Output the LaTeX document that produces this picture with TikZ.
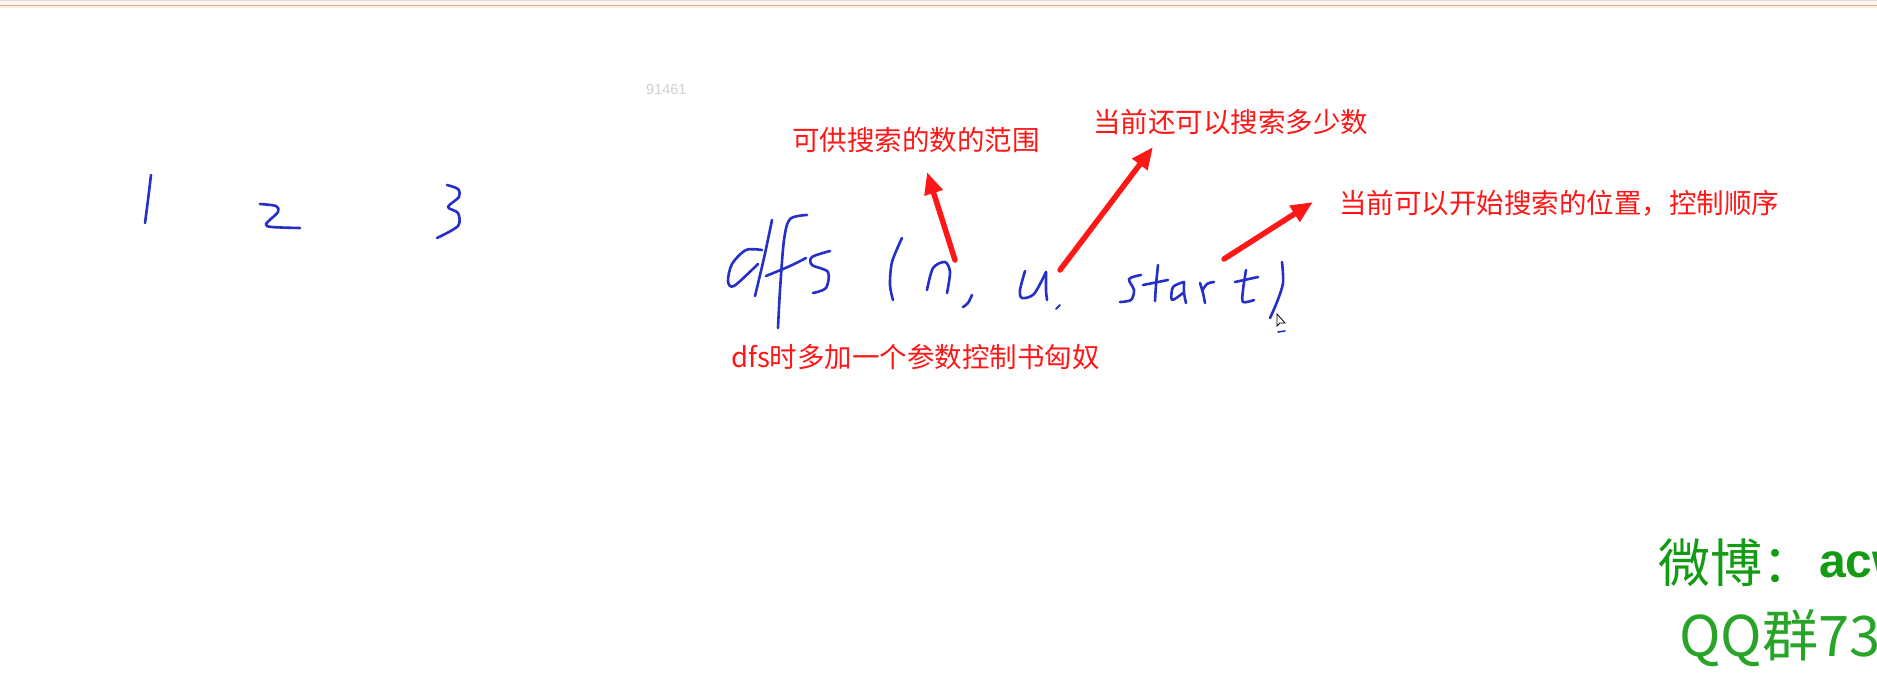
\documentclass[tikz,border=0pt]{standalone}
\usepackage{fontspec}
\newfontfamily\cjk{Noto Sans CJK SC}
\newfontfamily\latinsans{Liberation Sans}
\usetikzlibrary{arrows.meta}
\definecolor{penred}{RGB}{255,22,22}
\definecolor{ink}{RGB}{38,48,198}
\definecolor{wmgreen}{RGB}{20,155,20}
\definecolor{qqgreen}{RGB}{40,165,40}
\definecolor{wmgray}{RGB}{208,208,208}
\begin{document}
\begin{tikzpicture}[x=1pt,y=-1pt,
  hand/.style={ink, line width=2.6pt, line cap=round, line join=round},
  note/.style={penred, font=\cjk\fontsize{27.5}{30}\selectfont, inner sep=0pt, anchor=west},
  redarrow/.style={penred, line width=5.5pt, -{Triangle[length=22pt,width=18pt]}}]
\useasboundingbox (0,0) rectangle (1877,675);
\clip (0,0) rectangle (1877,675);
\fill[white] (0,0) rectangle (1877,675);
% top window edge
\fill[black!15] (0,0) rectangle (1877,1);
\fill[orange!6] (0,1) rectangle (1877,5);
\fill[brown!60] (0,5) rectangle (1877,6.3);
\fill[orange!12] (0,6.3) rectangle (1877,7.5);

% watermark
\node[wmgray, font=\latinsans\fontsize{14.5}{16}\selectfont, inner sep=0pt, anchor=west] (wm) at (646,90) {91461};

% handwritten 1 2 3
\draw[hand] plot[smooth] coordinates {(151,175) (148,200) (145,223)};
\draw[hand] plot[smooth] coordinates {(260,204) (276,206) (278,212) (266,224) (272,227) (300,228)};
\draw[hand] plot[smooth] coordinates {(447,185) (458,189) (459,197) (448,207) (458,213) (458,226) (437,238)};

% handwritten dfs ( n, u. start )
\draw[hand] plot[smooth] coordinates {(772,220) (764,258) (755,296)};
\draw[hand] plot[smooth] coordinates {(762,250) (746,250) (732,264) (728,281) (734,286) (758,264)};
\draw[hand] plot[smooth] coordinates {(807,215) (790,219) (784,240) (780,290) (778,328)};
\draw[hand] plot[smooth] coordinates {(766,276) (790,266) (806,258)};
\draw[hand] plot[smooth] coordinates {(830,251) (812,257) (812,265) (828,272) (826,288) (813,293)};
\draw[hand] plot[smooth] coordinates {(902,238) (892,262) (890,285) (893,300)};
\draw[hand] plot[smooth] coordinates {(927,290) (933,268) (945,262) (950,272) (947,293)};
\draw[hand] plot[smooth] coordinates {(972,295) (968,303) (963,307)};
\draw[hand] plot[smooth] coordinates {(1025,271) (1020,290) (1022,298) (1034,294) (1046,272)};
\draw[hand] plot[smooth] coordinates {(1046,272) (1046,290) (1047,300)};
\draw[hand, line width=1.8pt] (1060,305) -- (1056,309);
\draw[hand] plot[smooth] coordinates {(1141,275) (1129,279) (1134,290) (1131,300) (1120,302)};
\draw[hand] plot[smooth] coordinates {(1158,265) (1156,285) (1155,301)};
\draw[hand] (1143,285) -- (1168,280);
\draw[hand] plot[smooth] coordinates {(1184,282) (1173,287) (1172,300) (1183,293)};
\draw[hand] plot[smooth] coordinates {(1184,282) (1184,293) (1186,303)};
\draw[hand] plot[smooth] coordinates {(1200,283) (1203,293) (1205,303)};
\draw[hand] plot[smooth] coordinates {(1202,291) (1207,284) (1214,282)};
\draw[hand] plot[smooth] coordinates {(1246,270) (1243,290) (1243,302) (1254,300)};
\draw[hand] (1235,282) -- (1258,277);
\draw[hand] plot[smooth] coordinates {(1282,262) (1283,283) (1277,302) (1270,318)};
\draw[hand, line width=1.6pt] (1278,332) -- (1285,331);
% mouse pointer
\draw[black, line width=0.8pt, fill=white] (1277,314) -- (1277,326) -- (1280,323) -- (1285,323) -- cycle;

% annotations
\node[note] (range) at (792,140) {可供搜索的数的范围};
\node[note] (left) at (1093,122) {当前还可以搜索多少数};
\node[note] (pos) at (1339,203) {当前可以开始搜索的位置，控制顺序};
\node[note] (extra) at (731,357) {dfs时多加一个参数控制书匈奴};

\coordinate (n) at (955,260);
\coordinate (u) at (1060,270);
\coordinate (s) at (1224,259);
\coordinate (tipn) at (927,172);
\coordinate (tipu) at (1153,147);
\coordinate (tips) at (1313,202);
\draw[redarrow, line cap=round] (n) -- (tipn);
\draw[redarrow, line cap=round] (u) -- (tipu);
\draw[redarrow, line cap=round] (s) -- (tips);

% green corner text (cut off by the frame)
\node[wmgreen, font=\cjk\fontsize{52}{56}\selectfont, inner sep=0pt, anchor=west] (weibo) at (1658,563) {微博：};
\node[wmgreen, font=\latinsans\bfseries\fontsize{48}{56}\selectfont, inner sep=0pt, anchor=west] (acw) at (1819,565) {acw};
\node[qqgreen, font=\cjk\fontsize{56}{60}\selectfont, inner sep=0pt, anchor=west] (qq) at (1679,638) {QQ群73};
\end{tikzpicture}
\end{document}
